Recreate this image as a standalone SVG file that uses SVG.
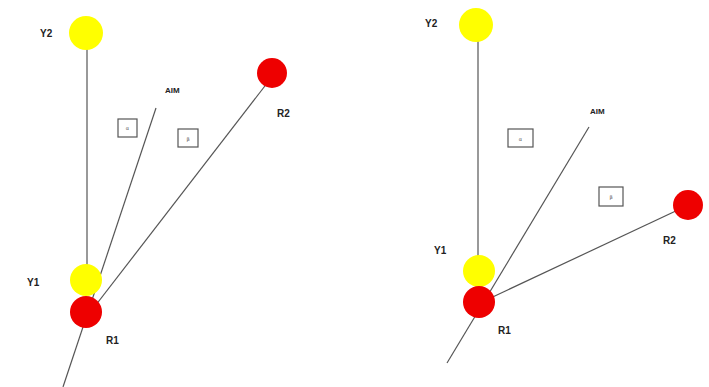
<svg xmlns="http://www.w3.org/2000/svg" width="709" height="387" viewBox="0 0 709 387">
<style>
.ln{stroke:#555;stroke-width:1.2;fill:none}
.y{fill:#ffff00}
.r{fill:#ee0000}
.lb{font-family:"Liberation Sans",Arial,sans-serif;font-size:10px;font-weight:bold;fill:#222}
.bx{fill:#fff;stroke:#555;stroke-width:1.2}
.bt{font-family:"DejaVu Sans",sans-serif;font-size:5px;fill:#555;text-anchor:middle}
</style>
<rect width="709" height="387" fill="#fff"/>
<g id="connectors">
<line class="ln" x1="87" y1="40" x2="87" y2="280"/>
<line class="ln" x1="156" y1="108" x2="63" y2="387"/>
<line class="ln" x1="268" y1="82" x2="92" y2="310"/>
<line class="ln" x1="478" y1="30" x2="478" y2="272"/>
<line class="ln" x1="589" y1="127" x2="447" y2="363"/>
<line class="ln" x1="680" y1="209" x2="482" y2="302"/>
</g>
<g id="left-Y2"><circle class="y" cx="86" cy="33" r="17"/><text class="lb" x="40" y="37">Y2</text></g>
<g id="left-R2"><circle class="r" cx="272" cy="73" r="15"/><text class="lb" x="277" y="117">R2</text></g>
<g id="left-AIM"><text class="lb" x="165" y="93" style="font-size:8px">AIM</text></g>
<g id="left-box1"><rect class="bx" x="118" y="119" width="19" height="18"/><text class="bt" x="127.5" y="130">α</text></g>
<g id="left-box2"><rect class="bx" x="178" y="129" width="20" height="18"/><text class="bt" x="188" y="141">β</text></g>
<g id="left-Y1"><circle class="y" cx="86" cy="280" r="16"/><text class="lb" x="27" y="286">Y1</text></g>
<g id="left-R1"><circle class="r" cx="86" cy="312" r="16"/><text class="lb" x="106" y="344">R1</text></g>
<g id="right-Y2"><circle class="y" cx="476" cy="25" r="17"/><text class="lb" x="425" y="27">Y2</text></g>
<g id="right-AIM"><text class="lb" x="590" y="114" style="font-size:8px">AIM</text></g>
<g id="right-box1"><rect class="bx" x="508" y="129" width="25" height="18"/><text class="bt" x="520.5" y="141">α</text></g>
<g id="right-box2"><rect class="bx" x="599" y="187" width="24" height="19"/><text class="bt" x="611" y="199">β</text></g>
<g id="right-R2"><circle class="r" cx="688" cy="205" r="15"/><text class="lb" x="663" y="244">R2</text></g>
<g id="right-Y1"><circle class="y" cx="479" cy="271" r="16"/><text class="lb" x="434" y="254">Y1</text></g>
<g id="right-R1"><circle class="r" cx="479" cy="302" r="16"/><text class="lb" x="498" y="334">R1</text></g>
</svg>
